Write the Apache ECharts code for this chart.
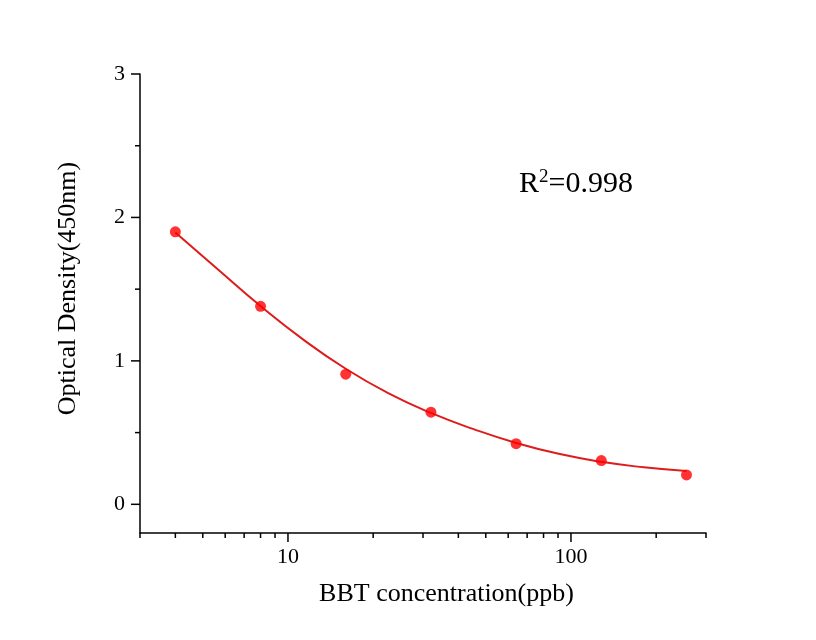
<!DOCTYPE html>
<html lang="en">
<head>
    <meta charset="UTF-8">
    <title>BBT standard curve</title>
    <script src="https://cdn.jsdelivr.net/npm/echarts@6/dist/echarts.min.js"></script>
</head>
<body style="margin:0">
<div id="curveDemo" style="width: 816px;height: 640px"></div>

<script>
    // measured standards
    var conc = [4, 8, 16, 32, 64, 128, 256];
    var od = [1.90, 1.38, 0.907, 0.642, 0.423, 0.305, 0.205];

    // fitted curve
    var fitX = [4, 5.66, 8, 11.3, 16, 22.6, 32, 45.3, 64, 90.5, 128, 181, 256];
    var fitY = [1.895, 1.637, 1.382, 1.150, 0.945, 0.775, 0.637, 0.524, 0.428, 0.352, 0.296, 0.258, 0.232];

    // axis ticks
    var xMajor = [10, 100];
    var xMinor = [3, 4, 5, 6, 7, 8, 9, 20, 30, 40, 50, 60, 70, 80, 90, 200, 300];
    var yMajor = [0, 1, 2, 3];
    var yMinor = [0.5, 1.5, 2.5];

    var xMin = 3, xMax = 300, yMin = -0.2, yMax = 3;
    var serif = '"Liberation Serif", "Times New Roman", serif';

    var chartDom = document.getElementById('curveDemo');
    var myChart = echarts.init(chartDom);
    var option;

    var tickData = [];
    xMajor.forEach(function (v) { tickData.push([v, yMin, 0, 9]); });
    xMinor.forEach(function (v) { tickData.push([v, yMin, 0, 5]); });
    yMajor.forEach(function (v) { tickData.push([xMin, v, 1, 9]); });
    yMinor.forEach(function (v) { tickData.push([xMin, v, 1, 5]); });

    function renderTick(params, api) {
        var p = api.coord([api.value(0), api.value(1)]);
        var len = api.value(3);
        var shape = api.value(2) === 0
            ? { x1: p[0], y1: p[1], x2: p[0], y2: p[1] + len }
            : { x1: p[0], y1: p[1], x2: p[0] - len, y2: p[1] };
        return {
            type: 'line',
            shape: shape,
            style: { stroke: '#000', lineWidth: 1.5 }
        };
    }

    option = {
        animation: false,
        backgroundColor: '#fff',
        grid: { left: 140, right: 110, top: 74, bottom: 107 },
        xAxis: {
            type: 'log',
            logBase: 10,
            min: xMin,
            max: xMax,
            name: 'BBT concentration(ppb)',
            nameLocation: 'middle',
            nameGap: 48,
            nameTextStyle: { fontFamily: serif, fontSize: 26, color: '#000', padding: [0, 0, 0, 47] },
            axisLine: { onZero: false, lineStyle: { color: '#000', width: 1.5 } },
            axisTick: { show: false },
            splitLine: { show: false },
            axisLabel: {
                margin: 13,
                fontFamily: serif,
                fontSize: 22,
                color: '#000',
                showMinLabel: false,
                showMaxLabel: false,
                formatter: function (v) {
                    return xMajor.indexOf(Math.round(v)) >= 0 ? String(Math.round(v)) : '';
                }
            }
        },
        yAxis: {
            type: 'value',
            min: yMin,
            max: yMax,
            name: 'Optical Density(450nm)',
            nameLocation: 'middle',
            nameGap: 59,
            nameTextStyle: { fontFamily: serif, fontSize: 26, color: '#000', padding: [0, 0, 0, 30] },
            axisLine: { show: true, onZero: false, lineStyle: { color: '#000', width: 1.5 } },
            axisTick: { show: false },
            splitLine: { show: false },
            axisLabel: {
                margin: 15,
                fontFamily: serif,
                fontSize: 22,
                color: '#000',
                formatter: function (v) {
                    return yMajor.indexOf(v) >= 0 ? String(v) : '';
                }
            }
        },
        graphic: [{
            type: 'text',
            left: 519,
            top: 168,
            style: {
                text: '{r|R}{s|2}{r|=0.998}',
                rich: {
                    r: { fontFamily: serif, fontSize: 30, fill: '#000', verticalAlign: 'bottom' },
                    s: { fontFamily: serif, fontSize: 19, fill: '#000', verticalAlign: 'top', padding: [0, 0, 12, 0] }
                }
            }
        }],
        series: [
            {
                name: 'fit',
                type: 'line',
                smooth: true,
                symbol: 'none',
                lineStyle: { color: '#dd1c1c', width: 2 },
                data: fitX.map(function (x, i) { return [x, fitY[i]]; }),
                z: 2
            },
            {
                name: 'OD',
                type: 'scatter',
                symbolSize: 11,
                itemStyle: { color: '#ff0000' },
                data: conc.map(function (x, i) { return [x, od[i]]; }),
                z: 3
            },
            {
                name: 'ticks',
                type: 'custom',
                renderItem: renderTick,
                silent: true,
                clip: false,
                data: tickData
            }
        ]
    };
    option && myChart.setOption(option);
</script>
</body>
</html>
